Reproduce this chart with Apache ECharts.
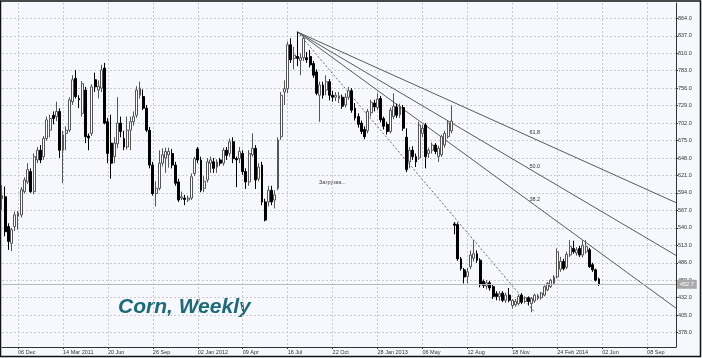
<!DOCTYPE html>
<html>
<head>
<meta charset="utf-8">
<script src="https://cdn.jsdelivr.net/npm/echarts@6/dist/echarts.min.js"></script>
<style>
html,body{margin:0;padding:0;background:#f7f8fd;}
#chart{width:702px;height:358px;}
</style>
</head>
<body>
<div id="chart"></div>
<script>
// ---- data ----
const firstWeek = '2010-11-01';
const weekCount = 211;
const xTickDates = ['2010-12-06','2011-03-14','2011-06-20','2011-09-26','2012-01-02','2012-04-09','2012-07-16','2012-10-22','2013-01-28','2013-05-06','2013-08-12','2013-11-18','2014-02-24','2014-06-02','2014-09-08'];
const xTickLabels = ['06 Dec','14 Mar 2011','20 Jun','26 Sep','02 Jan 2012','09 Apr','16 Jul','22 Oct','28 Jan 2013','06 May','12 Aug','18 Nov','24 Feb 2014','02 Jun','08 Sep'];
const yTicks = [378,405,432,459,486,513,540,567,594,621,648,675,702,729,756,783,810,837,864];

const opens = [585,588,542,516,542,558,560,596,611,627,596,645,660,650,678,691,714,712,720,660,686,691,735,771,740,717,753,682,686,769,753,756,787,704,671,650,670,702,678,665,691,704,714,745,743,725,691,637,593,601,640,648,653,655,637,611,586,586,583,586,624,662,645,601,614,640,642,634,645,640,660,655,673,647,647,655,627,611,653,663,616,637,580,580,598,583,601,681,750,755,823,802,805,799,803,803,805,794,781,745,761,753,766,745,742,740,742,730,742,752,725,712,702,692,690,718,733,726,740,709,700,689,712,727,715,726,680,642,660,650,648,686,699,655,660,668,650,653,668,681,690,546,545,492,475,465,480,493,500,490,457,450,455,449,438,434,439,428,436,420,421,423,436,426,432,423,427,431,432,436,444,449,454,464,476,488,479,498,508,501,508,498,503,506,483,475,461];
const closes = [590,534,519,537,560,563,599,614,630,596,650,660,645,678,707,709,709,720,660,684,691,738,769,743,738,763,681,679,758,758,759,784,702,655,640,671,702,689,665,691,704,712,753,756,725,691,637,593,601,640,653,658,658,637,609,583,588,584,586,619,647,645,598,612,642,645,632,642,640,660,652,673,647,645,658,627,611,655,663,614,634,580,552,598,580,591,676,745,755,823,800,807,802,803,833,800,792,776,748,761,745,766,745,742,745,744,728,742,752,722,710,700,689,681,720,734,727,739,707,697,689,722,728,714,728,694,630,660,650,642,699,694,650,660,668,658,663,681,686,702,705,544,492,477,464,472,498,500,490,452,451,455,447,434,434,438,428,436,428,428,426,434,425,432,426,431,436,435,439,449,454,459,464,503,488,477,499,511,503,506,498,513,511,480,475,459,452.7];
const lows = [568,527,506,504,535,537,556,593,608,594,592,640,640,645,675,680,700,705,648,609,660,688,730,740,725,712,671,660,682,750,740,750,700,640,616,640,663,680,660,661,660,698,710,740,722,688,632,590,573,598,635,625,633,632,605,580,583,575,580,583,620,640,595,595,610,625,625,625,636,636,645,650,640,603,640,622,600,605,650,600,612,575,550,573,575,570,598,676,730,748,795,785,790,776,798,795,788,772,745,704,740,745,737,735,736,733,724,726,738,718,706,695,685,677,686,712,720,722,703,692,684,686,708,710,710,690,626,632,645,634,645,680,632,648,655,654,642,650,664,678,686,530,489,474,454,454,476,488,486,448,447,445,443,430,428,427,425,424,425,415,418,420,422,423,420,409.5,424,428,429,434,442,447,452,462,472,474,476,495,500,497,495,494,500,478,472,457,450];
const highs = [606,604,547,540,565,566,603,618,640,632,655,665,668,682,712,715,720,735,725,690,697,742,776,784,745,767,758,686,762,780,768,792,795,710,715,680,742,712,690,712,712,720,759,766,754,730,696,642,612,660,663,664,664,662,642,616,596,591,590,624,650,665,650,620,648,650,648,646,648,664,665,678,680,650,665,660,632,660,686,668,640,642,585,605,605,598,680,750,768,828,833,820,843,810,836,812,815,798,785,766,766,776,770,752,750,750,746,748,758,756,733,717,706,697,724,738,738,748,744,712,704,726,748,732,732,730,694,665,666,655,704,699,702,664,672,671,667,684,690,706,729,549,548,495,478,478,505,521,505,493,460,459,458,452,442,442,442,440,447,430,430,437,439,434,434,433,438,438,441,451,456,461,467,508,495,492,503,521,520,510,512,521,521,509,486,477,463];

const fanPeak = {index: 92, value: 843};
const fanLow = {index: 166, value: 409.5};
const fanLevels = [38.2, 50.0, 61.8];

const chartTitle = 'Corn, Weekly';
const loadingText = 'Загрузка...';

// ---- build ----
function pad(n){return n<10?'0'+n:''+n;}
const categories = [];
{
  const d0 = new Date(firstWeek + 'T00:00:00Z');
  for (let i = 0; i < weekCount; i++) {
    const d = new Date(d0.getTime() + i*7*86400000);
    categories.push(d.getUTCFullYear()+'-'+pad(d.getUTCMonth()+1)+'-'+pad(d.getUTCDate()));
  }
}
const tickMap = {};
xTickDates.forEach((d,i)=>{tickMap[d]=xTickLabels[i];});
const isTick = (idx, val) => tickMap.hasOwnProperty(val);

const candles = opens.map((o,i)=>[o, closes[i], lows[i], highs[i]]);
const lastClose = closes[closes.length-1];
const endIdx = categories.length - 1;

const smallFont = 'Liberation Sans';
const fanSeries = fanLevels.map(r => {
  const lv = fanLow.value + r/100*(fanPeak.value - fanLow.value);
  const slope = (lv - fanPeak.value)/(fanLow.index - fanPeak.index);
  const endVal = fanPeak.value + slope*(endIdx - fanPeak.index);
  return {
    type: 'line', silent: true, animation: false, z: 3,
    symbol: 'circle', symbolSize: 0, showSymbol: true,
    lineStyle: {color: '#5a5a5a', width: 1},
    data: [
      [fanPeak.index, fanPeak.value],
      {value: [fanLow.index, lv], label: {show: true, position: 'top', distance: 3, formatter: r.toFixed(1), fontSize: 5.5, color: '#333', fontFamily: smallFont}},
      [endIdx, endVal]
    ]
  };
});

const chart = echarts.init(document.getElementById('chart'), null, {renderer: 'canvas'});
chart.setOption({
  backgroundColor: '#f7f8fd',
  animation: false,
  grid: {left: 2, right: 26, top: 3, bottom: 11, show: false},
  xAxis: {
    type: 'category', data: categories, boundaryGap: false,
    axisLine: {show: true, lineStyle: {color: '#333', width: 1}},
    axisTick: {show: true, length: 2, interval: isTick, lineStyle: {color: '#333'}},
    axisLabel: {show: true, interval: isTick, formatter: v => tickMap[v] || '', align: 'left', margin: 2, fontSize: 5.5, color: '#333', fontFamily: smallFont},
    splitLine: {show: true, interval: isTick, lineStyle: {color: '#c9c9cf', type: [2,2], width: 1}}
  },
  yAxis: {
    type: 'value', position: 'right', min: 355.74, max: 887.65, scale: true,
    axisLine: {show: true, lineStyle: {color: '#333', width: 1}},
    axisTick: {show: true, length: 2, customValues: yTicks, lineStyle: {color: '#333'}},
    axisLabel: {show: true, customValues: yTicks, formatter: v => v.toFixed(1), margin: 2, fontSize: 5.5, color: '#333', fontFamily: smallFont},
    splitLine: {show: true, lineStyle: {color: '#c9c9cf', type: [2,2], width: 1}}
  },
  series: [
    {
      type: 'candlestick', data: candles, barWidth: 2.4, z: 4,
      itemStyle: {color: '#ffffff', color0: '#000000', borderColor: '#555555', borderColor0: '#000000', borderWidth: 1},
      markLine: {
        silent: true, symbol: ['none','none'], animation: false,
        lineStyle: {color: '#b9b9b9', type: 'solid', width: 1},
        label: {show: true, position: 'end', formatter: lastClose.toFixed(1), backgroundColor: '#a9a9a9', color: '#ffffff', fontSize: 5.5, padding: [2,3,1,3], distance: 1, fontFamily: smallFont},
        data: [{yAxis: lastClose}]
      }
    },
    {
      type: 'line', silent: true, animation: false, z: 3,
      symbol: 'none',
      lineStyle: {color: '#6a6a6a', width: 1, type: [2,2]},
      data: [[fanPeak.index, fanPeak.value], [fanLow.index, fanLow.value]]
    }
  ].concat(fanSeries),
  graphic: [
    {type: 'text', silent: true, style: {x: 118, y: 297, text: chartTitle, font: 'italic bold 21px "Liberation Sans", Arial, sans-serif', fill: '#1d6a79', textBaseline: 'alphabetic'}},
    {type: 'text', silent: true, style: {x: 319, y: 179, text: loadingText, font: '5.5px "Liberation Sans", sans-serif', fill: '#444', textBaseline: 'middle'}},
    {type: 'rect', silent: true, shape: {x: 0.5, y: 1, width: 700, height: 355.5}, style: {fill: 'none', stroke: '#111', lineWidth: 1.5}}
  ]
});
</script>
</body>
</html>
